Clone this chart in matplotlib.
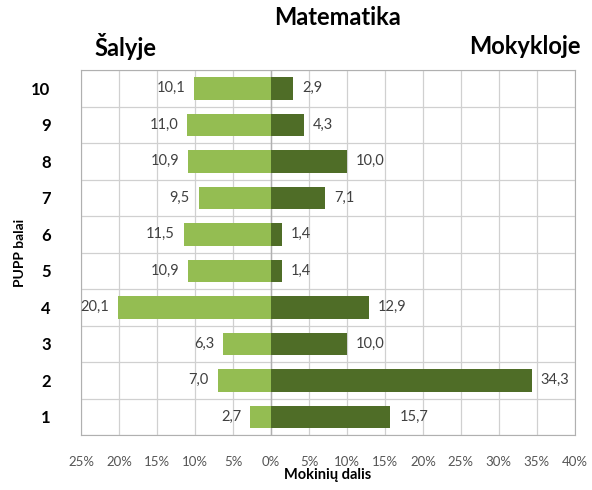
import numpy as np
import matplotlib.pyplot as plt
from matplotlib.ticker import FixedLocator

balai = [1, 2, 3, 4, 5, 6, 7, 8, 9, 10]
salyje = [2.7, 7.0, 6.3, 20.1, 10.9, 11.5, 9.5, 10.9, 11.0, 10.1]
mokykloje = [15.7, 34.3, 10.0, 12.9, 1.4, 1.4, 7.1, 10.0, 4.3, 2.9]
x_ticks = [-25, -20, -15, -10, -5, 0, 5, 10, 15, 20, 25, 30, 35, 40]

plt.rcParams['font.family'] = ['Lato', 'DejaVu Sans']

light = '#94bd52'
dark = '#4f6d27'

fig = plt.figure(figsize=(5.92, 4.9), dpi=100)
ax = fig.add_axes([0.137, 0.112, 0.834, 0.745])

y = np.arange(len(balai))
left_vals = -np.array(salyje)
ax.barh(y, left_vals, height=0.62, color=light, zorder=3)
ax.barh(y, mokykloje, height=0.62, color=dark, zorder=3)

# skaičiai prie stulpelių
for i in range(len(balai)):
    ax.text(left_vals[i] - 1.2, y[i], f'{salyje[i]:.1f}'.replace('.', ','),
            ha='right', va='center', fontsize=10.5, color='#404040')
    ax.text(mokykloje[i] + 1.2, y[i], f'{mokykloje[i]:.1f}'.replace('.', ','),
            ha='left', va='center', fontsize=10.5, color='#404040')

ax.set_xlim(-25, 40)
ax.set_ylim(-0.5, len(balai) - 0.5)
ax.xaxis.set_major_locator(FixedLocator(x_ticks))
ax.set_xticklabels([f'{abs(v)}%' for v in x_ticks], fontsize=9.5, color='#555555')
ax.set_yticks(y)
ax.set_yticklabels([str(b) for b in balai], fontsize=12, fontweight='bold')
ax.yaxis.set_minor_locator(FixedLocator(np.arange(-0.5, len(balai), 1)))
ax.tick_params(axis='both', which='both', length=0)
ax.tick_params(axis='y', pad=22)
ax.tick_params(axis='x', pad=15)

ax.grid(axis='x', which='major', color='#d0d0d0', lw=0.9, zorder=0)
ax.grid(axis='y', which='minor', color='#d0d0d0', lw=0.9, zorder=0)
ax.axvline(0, color='#b0b0b0', lw=1, zorder=2)
for s in ax.spines.values():
    s.set_color('#b0b0b0')

ax.set_xlabel('Mokinių dalis', fontsize=10.5, fontweight='bold', labelpad=0)
ax.set_ylabel('PUPP balai', fontsize=10, fontweight='bold', labelpad=4)

fig.text(0.57, 0.965, 'Matematika', ha='center', va='center', fontsize=17, fontweight='bold')
fig.text(0.16, 0.905, 'Šalyje', ha='left', va='center', fontsize=17, fontweight='bold')
fig.text(0.98, 0.905, 'Mokykloje', ha='right', va='center', fontsize=17, fontweight='bold')

fig.savefig('out.png', dpi=100)
